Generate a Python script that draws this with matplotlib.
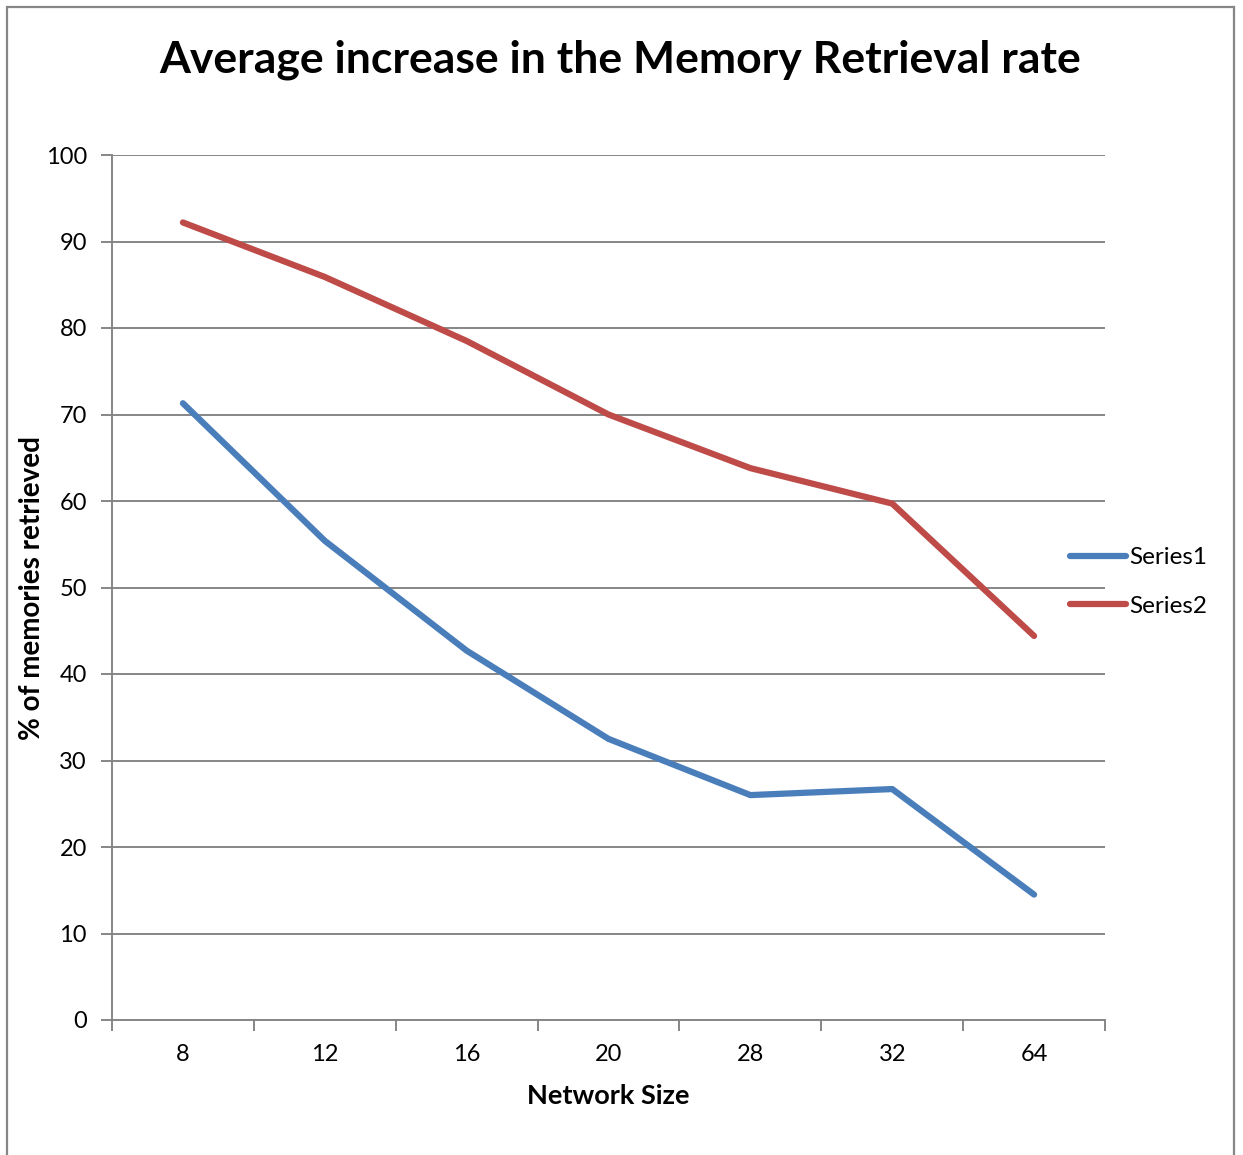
import matplotlib.pyplot as plt
from matplotlib.patches import Rectangle
from matplotlib.ticker import FixedLocator

plt.rcParams['font.family'] = ['Lato', 'DejaVu Sans']

# network sizes on the category axis
network_sizes = ["8", "12", "16", "20", "28", "32", "64"]
# % of memories retrieved per network size
series1 = [71.3, 55.4, 42.7, 32.5, 26.0, 26.7, 14.5]
series2 = [92.2, 85.9, 78.5, 70.0, 63.8, 59.7, 44.4]
y_ticks = [0, 10, 20, 30, 40, 50, 60, 70, 80, 90, 100]

W, H = 1243, 1155
fig = plt.figure(figsize=(W / 100, H / 100), dpi=100)

# gray chart-area border
fig.patches.append(Rectangle((7 / W, -0.02), (1234 - 7) / W, 1 - 7 / H + 0.02,
                             transform=fig.transFigure, fill=False,
                             edgecolor="#868686", linewidth=1.6))

ax = fig.add_axes([112 / W, 1 - 1020 / H, (1105 - 112) / W, (1020 - 155) / H])

grid_col = "#868686"
x = list(range(len(network_sizes)))
ax.plot(x, series1, color="#4A7EBB", lw=4.5, solid_capstyle="round",
        solid_joinstyle="round", label="Series1", zorder=3)
ax.plot(x, series2, color="#BE4B48", lw=4.5, solid_capstyle="round",
        solid_joinstyle="round", label="Series2", zorder=3)

ax.set_xlim(-0.5, len(network_sizes) - 0.5)
ax.set_ylim(0, 100)
ax.set_yticks(y_ticks)
ax.set_xticks(x)
ax.set_xticklabels(network_sizes)
ax.xaxis.set_minor_locator(FixedLocator([i - 0.5 for i in range(len(network_sizes) + 1)]))

ax.yaxis.grid(True, color=grid_col, lw=1.4)
ax.set_axisbelow(True)
for s in ["top", "right"]:
    ax.spines[s].set_visible(False)
for s in ["left", "bottom"]:
    ax.spines[s].set_color(grid_col)
    ax.spines[s].set_linewidth(1.4)

ax.tick_params(axis="y", direction="out", length=8, width=1.4, color=grid_col,
               labelsize=17, pad=10)
ax.tick_params(axis="x", which="major", length=0, labelsize=17, pad=17)
ax.tick_params(axis="x", which="minor", direction="out", length=8, width=1.4,
               color=grid_col)

ax.set_xlabel("Network Size", fontsize=19.5, fontweight="bold")
ax.xaxis.label.set_va("center")
ax.xaxis.set_label_coords(0.4995, (1020 - 1096) / 865)
ax.set_ylabel("% of memories retrieved", fontsize=20, fontweight="bold")
ax.yaxis.label.set_va("center")
ax.yaxis.set_label_coords((32 - 112) / 993, 0.5)
fig.text(620 / W, 1 - 60 / H, "Average increase in the Memory Retrieval rate",
         ha="center", va="center", fontsize=32, fontweight="bold")

ax.legend(loc="center left", bbox_to_anchor=(1070 / W, 1 - 582 / H),
          bbox_transform=fig.transFigure, frameon=False, fontsize=17.5,
          handlelength=2.3, handletextpad=0.15, labelspacing=1.15,
          borderaxespad=0, borderpad=0)

fig.savefig("out.png", dpi=100)
